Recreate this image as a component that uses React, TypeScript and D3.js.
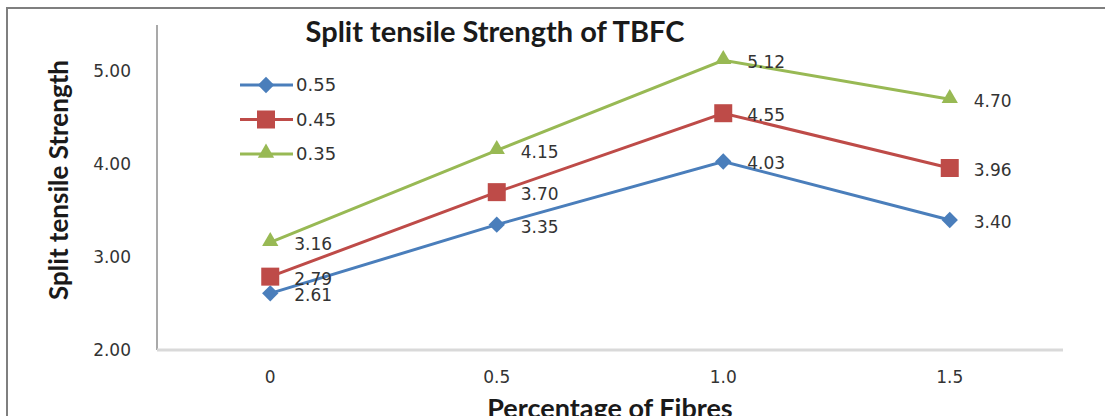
import React from "react";
import * as d3 from "d3";

const categories = ["0", "0.5", "1.0", "1.5"];
const seriesNames = ["0.55", "0.45", "0.35"];
const series055 = [2.61, 3.35, 4.03, 3.4];
const series045 = [2.79, 3.7, 4.55, 3.96];
const series035 = [3.16, 4.15, 5.12, 4.7];
const yTicks = [2, 3, 4, 5];
const colors = ["#4a7ebb", "#be4b48", "#98b954"];
const markers = ["diamond", "square", "triangle"];

const W = 1105;
const H = 416;
const plot = { left: 157, right: 1063, top: 25, bottom: 350 };

const numFont = "'DejaVu Sans', Verdana, sans-serif";
const titleFont = "Lato, 'Open Sans', sans-serif";

function markerPath(kind: string, size: number) {
  const sym =
    kind === "diamond"
      ? d3.symbolDiamond2
      : kind === "square"
      ? d3.symbolSquare2
      : d3.symbolTriangle2;
  return d3.symbol(sym, size)() as string;
}

function Marker({ kind, color, x, y }: { kind: string; color: string; x: number; y: number }) {
  if (kind === "diamond") {
    return <path d={markerPath(kind, 170)} transform={`translate(${x},${y})`} fill={color} />;
  }
  if (kind === "square") {
    return <rect x={x - 9} y={y - 9} width={18} height={18} fill={color} />;
  }
  return <path d={markerPath(kind, 190)} transform={`translate(${x},${y - 1})`} fill={color} />;
}

export default function App() {
  const data = [series055, series045, series035];
  const x = d3.scaleBand<string>().domain(categories).range([plot.left, plot.right]);
  const y = d3.scaleLinear().domain([2, 5.5]).range([plot.bottom, plot.top]);
  const cx = (c: string) => (x(c) as number) + x.bandwidth() / 2;
  const line = d3
    .line<number>()
    .x((_, i) => cx(categories[i]))
    .y((v) => y(v));

  return (
    <svg width={W} height={H} style={{ position: "absolute", left: 0, top: 0 }}>
      <rect x={0} y={0} width={W} height={H} fill="#ffffff" />
      {/* chart frame */}
      <rect x={7} y={8} width={W + 20} height={H + 20} fill="none" stroke="#7f7f7f" strokeWidth={2} />

      {/* title */}
      <text x={495} y={42} textAnchor="middle" fontFamily={titleFont} fontWeight={700} fontSize={29} fill="#1a1a1a">
        Split tensile Strength of TBFC
      </text>

      {/* y axis */}
      <line x1={plot.left} x2={plot.left} y1={plot.top} y2={plot.bottom} stroke="#8c8c8c" strokeWidth={1.5} />
      {yTicks.map((t) => (
        <text key={t} x={131} y={y(t)} dy="0.35em" textAnchor="end" fontFamily={numFont} fontSize={17} fill="#333">
          {t.toFixed(2)}
        </text>
      ))}
      <text
        transform={`translate(68,180) rotate(-90)`}
        textAnchor="middle"
        fontFamily={titleFont}
        fontWeight={700}
        fontSize={26}
        fill="#1a1a1a"
      >
        Split tensile Strength
      </text>

      {/* x axis */}
      <line x1={plot.left} x2={plot.right} y1={plot.bottom} y2={plot.bottom} stroke="#d9d9d9" strokeWidth={3} />
      {categories.map((c) => (
        <text key={c} x={cx(c)} y={383} textAnchor="middle" fontFamily={numFont} fontSize={17} fill="#333">
          {c}
        </text>
      ))}
      <text
        x={(plot.left + plot.right) / 2}
        y={418}
        textAnchor="middle"
        fontFamily={titleFont}
        fontWeight={700}
        fontSize={27}
        fill="#1a1a1a"
      >
        Percentage of Fibres
      </text>

      {/* series */}
      {data.map((vals, si) => (
        <g key={si}>
          <path d={line(vals) as string} fill="none" stroke={colors[si]} strokeWidth={3} />
          {vals.map((v, i) => (
            <Marker key={i} kind={markers[si]} color={colors[si]} x={cx(categories[i])} y={y(v)} />
          ))}
        </g>
      ))}
      {data.map((vals, si) =>
        vals.map((v, i) => (
          <text
            key={`${si}-${i}`}
            x={cx(categories[i]) + 24}
            y={y(v) + 2}
            dy="0.35em"
            fontFamily={numFont}
            fontSize={17}
            fill="#333"
          >
            {v.toFixed(2)}
          </text>
        ))
      )}

      {/* legend */}
      {seriesNames.map((n, i) => {
        const ly = 85 + i * 34.5;
        return (
          <g key={n}>
            <line x1={240} x2={293} y1={ly} y2={ly} stroke={colors[i]} strokeWidth={3} />
            <Marker kind={markers[i]} color={colors[i]} x={266} y={ly} />
            <text x={296} y={ly} dy="0.35em" fontFamily={numFont} fontSize={18} fill="#333">
              {n}
            </text>
          </g>
        );
      })}
    </svg>
  );
}
